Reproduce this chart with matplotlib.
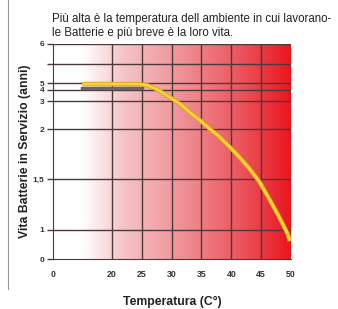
import matplotlib
matplotlib.use('Agg')
import matplotlib.pyplot as plt
import numpy as np
from matplotlib.colors import LinearSegmentedColormap
from matplotlib.lines import Line2D

plt.rcParams['font.family'] = ['Liberation Sans', 'DejaVu Sans']

# data
temp = [10, 15, 20, 24.3, 26, 27.7, 29.9, 31.6, 33.2, 34.7, 36.3, 38, 39.7,
        41.3, 43, 44.7, 46.3, 48, 49.4, 49.8]
life = [4.86, 4.86, 4.86, 4.86, 4.67, 4.04, 3.27, 2.87, 2.57, 2.32, 2.025, 1.923, 1.823,
        1.723, 1.607, 1.474, 1.311, 1.13, 0.886, 0.62]
shadow_temp = [10, 25]
shadow_life = [4.33, 4.33]

x_ticks = [0, 20, 25, 30, 35, 40, 45, 50]
y_ticks = [0, 1, 1.5, 2, 3, 4, 5, 5.5, 6]
y_labels = ['0', '1', '1,5', '2', '3', '4', '5', '', '6']

title = "Più alta è la temperatura dell ambiente in cui lavorano-\nle Batterie e più breve è la loro vita."

# non-uniform axes of the original chart
x_pos = [0, 59, 89, 119, 149, 179, 209, 239]
y_pos = [0, 29, 80, 130, 158, 169, 176, 195, 215]

def fx(v):
    return np.interp(v, x_ticks, x_pos)
def ix(p):
    return np.interp(p, x_pos, x_ticks)
def fy(v):
    return np.interp(v, y_ticks, y_pos)
def iy(p):
    return np.interp(p, y_pos, y_ticks)

fig = plt.figure(figsize=(3.38, 3.09), dpi=100)
ax = fig.add_axes([53/338, 50/309, 238/338, 215/309])
ax.set_xscale('function', functions=(fx, ix))
ax.set_yscale('function', functions=(fy, iy))
ax.set_xlim(0, 50)
ax.set_ylim(0, 6)

# white -> red gradient background
cmap = LinearSegmentedColormap.from_list('heat', [
    (0.0, '#ffffff'), (0.12, '#ffffff'), (0.3, '#f5c3c7'),
    (0.55, '#ef8f94'), (0.8, '#eb525a'), (1.0, '#e8161f')])
grad = np.linspace(0, 1, 256).reshape(1, -1)
ax.imshow(grad, cmap=cmap, aspect='auto', extent=[0, 1, 0, 1],
          transform=ax.transAxes, zorder=0)

# grid
for t in x_ticks[1:-1]:
    ax.axvline(t, color='#4a3a3a', lw=1, zorder=1)
for v in y_ticks[1:]:
    ax.axhline(v, color='#4a3a3a', lw=1, zorder=1)

# curve with its shadow
ax.plot(shadow_temp, shadow_life, color='#6e6262', lw=2.5, zorder=2)
ax.plot(temp, life, color='#e0a010', lw=3.2, zorder=3, solid_capstyle='butt',
        solid_joinstyle='round')
ax.plot(temp, life, color='#f7d23a', lw=2.0, zorder=4, solid_capstyle='butt',
        solid_joinstyle='round')

ax.set_xticks(x_ticks)
ax.set_xticklabels([str(t) for t in x_ticks])
ax.set_yticks(y_ticks)
ax.set_yticklabels(y_labels)
ax.minorticks_off()
ax.tick_params(axis='y', length=4, width=1, color='#4a3a3a', labelsize=6,
               labelcolor='#333333', pad=2)
ax.tick_params(axis='x', length=0, labelsize=6.3, labelcolor='#333333', pad=8)
for lbl in ax.get_yticklabels() + ax.get_xticklabels():
    lbl.set_fontweight('bold')

ax.spines['top'].set_visible(False)
ax.spines['right'].set_visible(False)
ax.spines['left'].set_color('#4a3a3a')
ax.spines['bottom'].set_color('#4a3a3a')

ax.set_xlabel('Temperatura (C°)', fontsize=8.8, fontweight='bold', labelpad=12, color='#222222')
ax.set_ylabel('Vita Batterie in Servizio (anni)', fontsize=8.8, fontweight='bold',
              color='#222222')
ax.yaxis.set_label_coords(-0.092, 0.5)

fig.text(52/338, 1 - 13/309, title, fontsize=8.3, va='top', ha='left',
         color='#222222', linespacing=1.2)

# thin frame line at the left edge
fig.add_artist(Line2D([8/338, 8/338], [20/309, 1], transform=fig.transFigure,
                      color='#999999', lw=0.8))

fig.savefig('out.png', dpi=100)
